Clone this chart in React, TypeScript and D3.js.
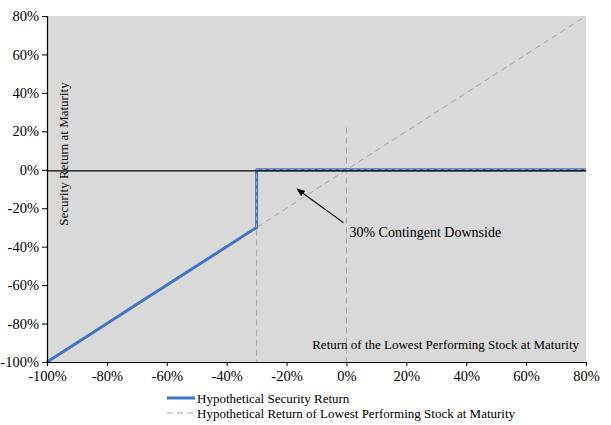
import React, { useRef, useEffect } from 'react';
import * as d3 from 'd3';

// x values are the return of the lowest performing stock (%), y the security return (%)
const securityX = [-100, -85, -70, -55, -45, -30, -30, 0, 80];
const securityY = [-100, -85, -70, -55, -45, -30, 0, 0, 0];
const stockX = [-100, 80];
const stockY = [-100, 80];
const xTicks = [-100, -80, -60, -40, -20, 0, 20, 40, 60, 80];
const yTicks = [-100, -80, -60, -40, -20, 0, 20, 40, 60, 80];
const refLines = [
    { x: -30, from: 0, to: -100 },
    { x: 0, from: 22, to: -100 },
];
const legendLabels = ['Hypothetical Security Return', 'Hypothetical Return of Lowest Performing Stock at Maturity'];

const FONT = '"Liberation Serif", "Times New Roman", serif';

const App: React.FC = () => {
    const svgRef = useRef<SVGSVGElement | null>(null);

    useEffect(() => {
        if (!svgRef.current) return;
        const svg = d3.select(svgRef.current);
        svg.selectAll('*').remove();

        const left = 47, right = 586, top = 16, bottom = 362;
        const x = d3.scaleLinear().domain([-100, 80]).range([left, right]);
        const y = d3.scaleLinear().domain([-100, 80]).range([bottom, top]);
        const pct = (v: number) => `${v}%`;

        svg.append('rect')
            .attr('x', left).attr('y', top)
            .attr('width', right - left).attr('height', bottom - top)
            .attr('fill', '#d9d9d9');

        // reference verticals
        svg.selectAll('line.ref')
            .data(refLines)
            .enter()
            .append('line')
            .attr('x1', d => x(d.x)).attr('x2', d => x(d.x))
            .attr('y1', d => y(d.from)).attr('y2', d => y(d.to))
            .attr('stroke', '#a6a6a6')
            .attr('stroke-width', 1)
            .attr('stroke-dasharray', '6,4');

        const line = d3.line<[number, number]>().x(d => x(d[0])).y(d => y(d[1]));

        // lowest performing stock
        svg.append('path')
            .attr('d', line(stockX.map((v, i) => [v, stockY[i]]) as [number, number][]))
            .attr('fill', 'none')
            .attr('stroke', '#a6a6a6')
            .attr('stroke-width', 1)
            .attr('stroke-dasharray', '6,4');

        const secPts = securityX.map((v, i) => [v, securityY[i]]) as [number, number][];
        svg.append('path')
            .attr('d', line(secPts))
            .attr('fill', 'none')
            .attr('stroke', '#4472c4')
            .attr('stroke-width', 3)
            .attr('stroke-linejoin', 'round');

        svg.append('path')
            .attr('d', line(secPts.slice(5)))
            .attr('fill', 'none')
            .attr('stroke', '#e2c38c')
            .attr('stroke-width', 0.8)
            .attr('stroke-dasharray', '4,3');

        // zero line
        svg.append('line')
            .attr('x1', left).attr('x2', right)
            .attr('y1', y(0) + 1).attr('y2', y(0) + 1)
            .attr('stroke', '#000').attr('stroke-width', 1.2);

        // axes
        const yAxis = svg.append('g')
            .attr('transform', `translate(${left},0)`)
            .call(d3.axisLeft(y).tickValues(yTicks).tickFormat(d => pct(+d)).tickSize(5).tickPadding(3));
        const xAxis = svg.append('g')
            .attr('transform', `translate(0,${bottom})`)
            .call(d3.axisBottom(x).tickValues(xTicks).tickFormat(d => pct(+d)).tickSize(4).tickPadding(5));
        [yAxis, xAxis].forEach(a => {
            a.attr('font-size', null).attr('font-family', null);
            a.select('.domain').attr('stroke', '#000').attr('stroke-width', 1.2);
            a.selectAll('.tick line').attr('stroke', '#000');
            a.selectAll('text').attr('fill', '#000').style('font-family', FONT).style('font-size', '14.5px');
        });

        // axis titles
        svg.append('text')
            .attr('transform', `translate(68,154) rotate(-90)`)
            .attr('text-anchor', 'middle')
            .style('font-family', FONT).style('font-size', '13px')
            .text('Security Return at Maturity');
        svg.append('text')
            .attr('x', 579).attr('y', 349)
            .attr('text-anchor', 'end')
            .style('font-family', FONT).style('font-size', '13px')
            .text('Return of the Lowest Performing Stock at Maturity');

        // annotation
        svg.append('defs').append('marker')
            .attr('id', 'arrow')
            .attr('viewBox', '0 0 10 10')
            .attr('refX', 9).attr('refY', 5)
            .attr('markerWidth', 7).attr('markerHeight', 7)
            .attr('orient', 'auto')
            .append('path').attr('d', 'M0,1 L10,5 L0,9 Z').attr('fill', '#000');
        svg.append('line')
            .attr('x1', x(-1)).attr('y1', y(-27.5))
            .attr('x2', x(-16.5)).attr('y2', y(-10))
            .attr('stroke', '#000').attr('stroke-width', 1.2)
            .attr('marker-end', 'url(#arrow)');
        svg.append('text')
            .attr('x', x(1)).attr('y', 237)
            .style('font-family', FONT).style('font-size', '14px')
            .text('30% Contingent Downside');

        // legend
        const lg = svg.append('g');
        legendLabels.forEach((label, i) => {
            const ly = 398 + i * 15;
            lg.append('line')
                .attr('x1', 167).attr('x2', 195)
                .attr('y1', ly).attr('y2', ly)
                .attr('stroke', i === 0 ? '#4472c4' : '#a6a6a6')
                .attr('stroke-width', i === 0 ? 3 : 1)
                .attr('stroke-dasharray', i === 0 ? null : '6,4');
            lg.append('text')
                .attr('x', 197).attr('y', ly + 5)
                .style('font-family', FONT).style('font-size', '13px')
                .text(label);
        });
    }, []);

    return (
        <svg
            ref={svgRef}
            width={611}
            height={425}
            style={{ position: 'absolute', left: 0, top: 0, background: '#fff' }}
        />
    );
};

export default App;
